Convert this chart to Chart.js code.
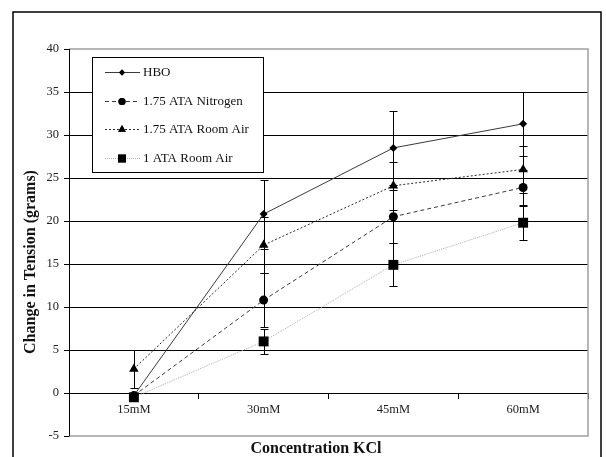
<!DOCTYPE html>
<html>
<head>
<meta charset="utf-8">
<script src="https://cdn.jsdelivr.net/npm/chart.js@4/dist/chart.umd.min.js"></script>
<style>
  html, body { margin: 0; padding: 0; background: #fff; }
  #wrap { width: 606px; height: 457px; position: relative; }
</style>
</head>
<body>
<div id="wrap"><canvas id="chart"></canvas></div>
<script>
const categories = ['15mM', '30mM', '45mM', '60mM'];
const yTicks = [-5, 0, 5, 10, 15, 20, 25, 30, 35, 40];

const seriesNames = ['HBO', '1.75 ATA Nitrogen', '1.75 ATA Room Air', '1 ATA Room Air'];
const hbo = [-0.3, 20.8, 28.5, 31.3];
const hboErr = [0, 4.0, 4.3, 3.7];
const nitrogen = [-0.3, 10.8, 20.5, 23.9];
const nitrogenErr = [0, 3.1, 3.1, 2.0];
const roomAir175 = [2.8, 17.2, 24.1, 26.0];
const roomAir175Err = [2.2, 3.3, 2.8, 2.7];
const roomAir1 = [-0.5, 6.0, 14.9, 19.8];
const roomAir1Err = [0, 1.5, 2.5, 2.0];

const xTitle = 'Concentration KCl';
const yTitle = 'Change in Tension (grams)';

const serif = "'Liberation Serif', 'Times New Roman', serif";

// error bars, drawn over the lines
const errorBars = {
  id: 'errorBars',
  afterDatasetsDraw(chart) {
    const ctx = chart.ctx;
    const y = chart.scales.y;
    ctx.save();
    ctx.strokeStyle = '#000';
    ctx.lineWidth = 1;
    chart.data.datasets.forEach((ds, i) => {
      const meta = chart.getDatasetMeta(i);
      meta.data.forEach((pt, j) => {
        const err = ds.errors[j];
        if (!err) return;
        const x = Math.round(pt.x) + 0.5;
        const top = Math.round(y.getPixelForValue(ds.data[j] + err)) + 0.5;
        const bot = Math.round(y.getPixelForValue(ds.data[j] - err)) + 0.5;
        ctx.beginPath();
        ctx.moveTo(x, top); ctx.lineTo(x, bot);
        ctx.moveTo(x - 4, top); ctx.lineTo(x + 4, top);
        ctx.moveTo(x - 4, bot); ctx.lineTo(x + 4, bot);
        ctx.stroke();
      });
    });
    ctx.restore();
  }
};

// frame, plot border, axis titles and the boxed legend
const frame = {
  id: 'frame',
  beforeDraw(chart) {
    const ctx = chart.ctx;
    ctx.save();
    ctx.fillStyle = '#fff';
    ctx.fillRect(0, 0, chart.width, chart.height);
    ctx.restore();
  },
  afterDraw(chart) {
    const ctx = chart.ctx;
    const a = chart.chartArea;
    ctx.save();
    ctx.strokeStyle = '#a0a0a0';
    ctx.lineWidth = 1.5;
    ctx.beginPath();
    ctx.moveTo(a.left, a.top); ctx.lineTo(a.right, a.top);
    ctx.lineTo(a.right, a.bottom); ctx.lineTo(a.left, a.bottom);
    ctx.stroke();
    ctx.strokeStyle = '#000';
    ctx.lineWidth = 1;
    ctx.beginPath();
    ctx.moveTo(Math.round(a.left) + 0.5, a.top); ctx.lineTo(Math.round(a.left) + 0.5, a.bottom);
    ctx.stroke();
    ctx.lineWidth = 1.5;
    ctx.strokeRect(13, 12, 588, 470);

    // axis titles
    ctx.fillStyle = '#111';
    ctx.font = 'bold 16px ' + serif;
    ctx.textAlign = 'center';
    ctx.textBaseline = 'middle';
    ctx.fillText(xTitle, a.left + 247, a.bottom + 13);
    ctx.save();
    ctx.translate(31, a.top + 213);
    ctx.rotate(-Math.PI / 2);
    ctx.fillText(yTitle, 0, 0);
    ctx.restore();

    // legend
    const lx = a.left + 23, ly = a.top + 8, lw = 171, lh = 115;
    ctx.fillStyle = '#fff';
    ctx.fillRect(lx, ly, lw, lh);
    ctx.lineWidth = 1;
    ctx.strokeStyle = '#000';
    ctx.strokeRect(lx + 0.5, ly + 0.5, lw, lh);
    ctx.font = '13px ' + serif;
    ctx.textAlign = 'left';
    ctx.textBaseline = 'middle';
    chart.data.datasets.forEach((ds, i) => {
      const ry = Math.round(ly + 15 + i * 28.7) + 0.5;
      ctx.strokeStyle = ds.borderColor;
      ctx.lineWidth = ds.borderWidth;
      ctx.setLineDash(ds.borderDash || []);
      ctx.beginPath();
      ctx.moveTo(lx + 13, ry); ctx.lineTo(lx + 48, ry);
      ctx.stroke();
      ctx.setLineDash([]);
      Chart.helpers.drawPoint(ctx, {
        pointStyle: ds.pointStyle, rotation: 0, radius: ds.pointRadius * 0.8,
        borderWidth: 0
      }, lx + 30, ry);
      ctx.fillStyle = '#000';
      ctx.fill();
      ctx.fillStyle = '#111';
      ctx.fillText(ds.label, lx + 51, ry);
    });
    ctx.restore();
  }
};

function seriesSet(label, data, errors, color, dash, style, radius, order) {
  return {
    label: label,
    data: data,
    errors: errors,
    borderColor: color,
    borderWidth: 1,
    borderDash: dash,
    pointStyle: style,
    pointRadius: radius,
    pointBackgroundColor: '#000',
    pointBorderColor: '#000',
    pointBorderWidth: 0,
    tension: 0,
    order: order
  };
}

new Chart(document.getElementById('chart'), {
  type: 'line',
  plugins: [frame, errorBars],
  data: {
    labels: categories,
    datasets: [
      seriesSet(seriesNames[0], hbo, hboErr, '#3a3a3a', [], 'rectRot', 4, 3),
      seriesSet(seriesNames[1], nitrogen, nitrogenErr, '#3a3a3a', [4, 3], 'circle', 4.5, 2),
      seriesSet(seriesNames[2], roomAir175, roomAir175Err, '#2a2a2a', [2, 2], 'triangle', 5.5, 1),
      seriesSet(seriesNames[3], roomAir1, roomAir1Err, '#b0b0b0', [1, 1], 'rect', 7, 0)
    ]
  },
  options: {
    responsive: true,
    maintainAspectRatio: false,
    animation: false,
    layout: { padding: { left: 14, right: 18, top: 49, bottom: 21 } },
    scales: {
      x: {
        type: 'category',
        position: { y: 0 },
        offset: true,
        border: { color: '#000', width: 1 },
        grid: { offset: true, drawOnChartArea: false, drawTicks: true, tickLength: 5, tickColor: '#000' },
        ticks: { color: '#222', font: { family: serif, size: 12.5 }, padding: 4, maxRotation: 0 }
      },
      y: {
        min: -5,
        max: 40,
        afterBuildTicks(scale) { scale.ticks = yTicks.map(v => ({ value: v })); },
        afterFit(scale) { scale.width = 55; },
        border: { color: '#000', width: 1 },
        grid: {
          color: ctx => (ctx.tick && (ctx.tick.value === 40 || ctx.tick.value === -5)) ? 'rgba(0,0,0,0)' : '#000',
          tickColor: '#000',
          tickLength: 5,
          lineWidth: 1
        },
        ticks: { color: '#222', font: { family: serif, size: 12.5 }, padding: 5 }
      }
    },
    plugins: {
      legend: { display: false },
      tooltip: { enabled: false }
    }
  }
});
</script>
</body>
</html>
